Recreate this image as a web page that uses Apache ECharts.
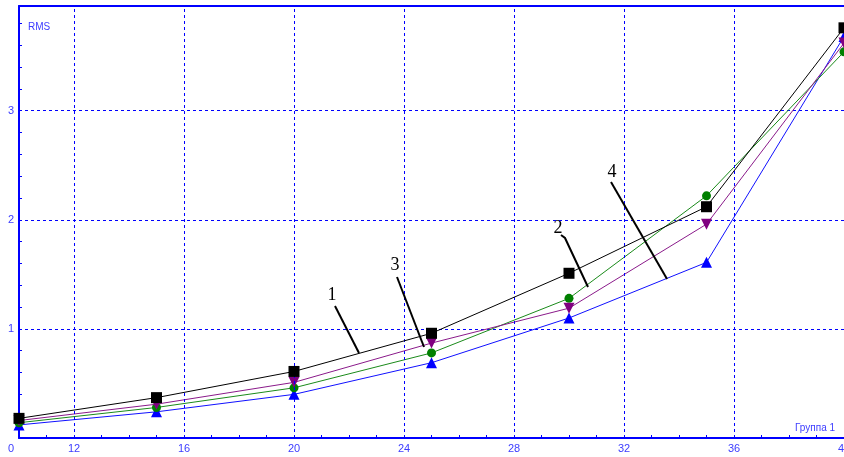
<!DOCTYPE html>
<html>
<head>
<meta charset="utf-8">
<script src="https://cdn.jsdelivr.net/npm/echarts@6/dist/echarts.min.js"></script>
<style>
html,body{margin:0;padding:0;background:#fff;}
#c{width:844px;height:457px;}
</style>
</head>
<body>
<div id="c"></div>
<script>
var xValues = [10, 15, 20, 25, 30, 35, 40];
var series1 = [0.18, 0.37, 0.61, 0.96, 1.51, 2.12, 3.76]; // black squares
var series2 = [0.14, 0.28, 0.46, 0.78, 1.28, 2.22, 3.54]; // green circles
var series3 = [0.16, 0.31, 0.51, 0.87, 1.19, 1.96, 3.62]; // purple down-triangles
var series4 = [0.12, 0.24, 0.40, 0.69, 1.10, 1.61, 3.68]; // blue triangles
var xGridTicks = [12, 16, 20, 24, 28, 32, 36];
var yTicks = [1, 2, 3];

var AX = '#0000ff';
var LBL = '#3c3cff';

function pairs(arr){ return xValues.map(function(x,i){ return [x, arr[i]]; }); }

var chart = echarts.init(document.getElementById('c'), null, {renderer:'canvas'});
var option = {
  animation: false,
  backgroundColor: '#ffffff',
  grid: {left: 19, right: 0, top: 6, bottom: 19, containLabel: false, outerBoundsMode: 'none'},
  xAxis: [{
    type: 'value', min: 10, max: 40, interval: 1, offset: 3,
    axisLine: {show: true, lineStyle: {color: AX, width: 2}},
    axisTick: {show: true, inside: true, length: 3, lineStyle: {color: AX, width: 1}},
    axisLabel: {
      color: LBL, fontFamily: 'Liberation Sans', fontSize: 11, margin: 2,
      formatter: function(v){ return (v % 4 === 0) ? String(v) : ''; }
    },
    splitLine: {show: false}
  }, {
    type: 'value', position: 'top', min: 10, max: 40,
    axisLine: {show: true, lineStyle: {color: AX, width: 2}},
    axisTick: {show: false}, axisLabel: {show: false}, splitLine: {show: false}
  }],
  yAxis: {
    type: 'value', min: 0, max: 3.96, interval: 1,
    axisLine: {show: true, lineStyle: {color: AX, width: 2}},
    axisTick: {show: true, inside: true, length: 3, lineStyle: {color: AX}},
    minorTick: {show: true, splitNumber: 5, length: 3, lineStyle: {color: AX}},
    axisLabel: {
      color: LBL, fontFamily: 'Liberation Sans', fontSize: 11, margin: 5,
      formatter: function(v){ return (yTicks.indexOf(v) >= 0) ? String(v) : ''; }
    },
    splitLine: {show: true, lineStyle: {color: AX, width: 1, type: [3, 3]}}
  },
  series: [
    {
      name: '4', type: 'line', data: pairs(series4), z: 2,
      symbol: 'triangle', symbolSize: 11,
      lineStyle: {color: '#1010ff', width: 1}, itemStyle: {color: '#0000ff'},
      markLine: {
        silent: true, symbol: 'none', label: {show: false},
        lineStyle: {color: AX, width: 1, type: [3, 3]},
        data: xGridTicks.map(function(t){ return {xAxis: t}; })
      }
    },
    {
      name: '2', type: 'line', data: pairs(series2), z: 3,
      symbol: 'circle', symbolSize: 9,
      lineStyle: {color: '#1a8a1a', width: 1}, itemStyle: {color: '#008000'}
    },
    {
      name: '3', type: 'line', data: pairs(series3), z: 4,
      symbol: 'triangle', symbolRotate: 180, symbolSize: 11,
      lineStyle: {color: '#8a1a8a', width: 1}, itemStyle: {color: '#800080'}
    },
    {
      name: '1', type: 'line', data: pairs(series1), z: 5,
      symbol: 'rect', symbolSize: 11,
      lineStyle: {color: '#000000', width: 1}, itemStyle: {color: '#000000'}
    }
  ],
  graphic: [
    {type: 'text', left: 28, top: 22, style: {text: 'RMS', fill: LBL, font: '10px "Liberation Sans"'}},
    {type: 'text', left: 795, top: 423, style: {text: 'Группа 1', fill: LBL, font: '10px "Liberation Sans"'}},
    {type: 'text', left: 8, top: 443, style: {text: '0', fill: LBL, font: '11px "Liberation Sans"'}},
    {type: 'text', x: 332, y: 295, style: {text: '1', fill: '#000', font: '18px "Liberation Serif"', textAlign: 'center', textVerticalAlign: 'middle'}},
    {type: 'text', x: 395, y: 265, style: {text: '3', fill: '#000', font: '18px "Liberation Serif"', textAlign: 'center', textVerticalAlign: 'middle'}},
    {type: 'text', x: 558, y: 228, style: {text: '2', fill: '#000', font: '18px "Liberation Serif"', textAlign: 'center', textVerticalAlign: 'middle'}},
    {type: 'text', x: 612, y: 172, style: {text: '4', fill: '#000', font: '18px "Liberation Serif"', textAlign: 'center', textVerticalAlign: 'middle'}},
    {type: 'polyline', shape: {points: [[335, 306], [359, 353]]}, style: {stroke: '#000', lineWidth: 2}, z: 10},
    {type: 'polyline', shape: {points: [[397, 277], [424, 347]]}, style: {stroke: '#000', lineWidth: 2}, z: 10},
    {type: 'polyline', shape: {points: [[561, 235], [565, 238], [588, 287]]}, style: {stroke: '#000', lineWidth: 2, fill: null}, z: 10},
    {type: 'polyline', shape: {points: [[611, 182], [667, 279]]}, style: {stroke: '#000', lineWidth: 2}, z: 10}
  ]
};
chart.setOption(option);
</script>
</body>
</html>
